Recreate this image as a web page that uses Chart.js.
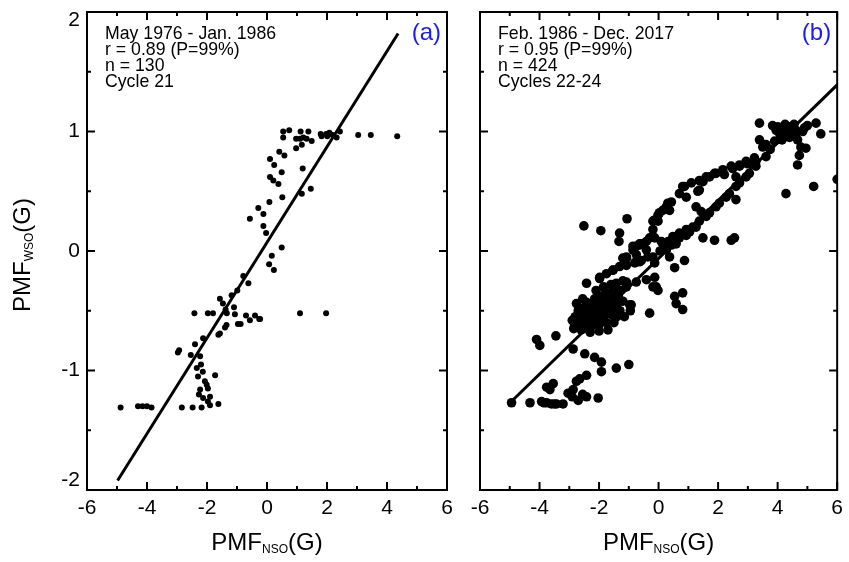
<!DOCTYPE html>
<html>
<head>
<meta charset="utf-8">
<script src="https://cdn.jsdelivr.net/npm/chart.js@4.4.1/dist/chart.umd.min.js"></script>
<style>
  html, body { margin: 0; padding: 0; background: #fff; }
  #wrap { position: relative; width: 849px; height: 562px; }
  canvas { position: absolute; top: 0; }
  #left { left: 0; }
  #right { left: 460px; }
</style>
</head>
<body>
<div id="wrap">
  <canvas id="left" width="460" height="562"></canvas>
  <canvas id="right" width="389" height="562"></canvas>
</div>
<script>
// PMF(NSO) vs PMF(WSO)
const xTickLabels = [-6, -4, -2, 0, 2, 4, 6];
const yTickLabels = [-2, -1, 0, 1, 2];

// panel (a): cycle 21
const cycle21Points = [
  [-4.88,-1.31],[-4.3,-1.3],[-4.15,-1.3],[-4.0,-1.3],[-3.85,-1.31],[-2.84,-1.31],[-2.48,-1.31],
  [-2.18,-1.31],[-1.9,-1.29],[-1.62,-1.28],
  [-2.23,-1.16],[-1.97,-1.15],[-2.27,-1.2],[-1.9,-1.22],[-2.13,-1.23],[-1.97,-1.26],[-2.07,-1.09],
  [-2.01,-1.12],[-2.3,-1.05],[-1.73,-1.04],[-2.34,-0.98],[-2.14,-1.01],[-2.23,-0.88],[-2.2,-0.95],
  [-2.54,-0.87],[-2.93,-0.83],[-2.97,-0.85],[-2.4,-0.78],[-2.13,-0.73],[-1.57,-0.69],[-1.62,-0.7],
  [-1.4,-0.64],[-1.35,-0.62],
  [-2.42,-0.52],[-1.97,-0.52],[-1.8,-0.52],[-1.07,-0.53],[-0.7,-0.54],[-0.4,-0.54],[-0.26,-0.57],
  [-0.97,-0.61],[-0.57,-0.58],[-0.88,-0.61],[-0.23,-0.57],[-1.38,-0.49],[-1.34,-0.52],[1.1,-0.52],
  [1.97,-0.52],[-1.47,-0.44],[-1.57,-0.4],[-1.18,-0.37],[-0.99,-0.33],[-0.79,-0.21],[-0.62,-0.27],
  [-1.1,-0.47],
  [0.16,-0.04],[0.07,-0.11],[0.23,-0.16],[0.49,0.03],[-0.57,0.27],[-0.29,0.36],[-0.12,0.31],
  [-0.12,0.21],[-0.03,0.15],[0.08,0.41],[0.51,0.45],[0.1,0.62],[0.21,0.59],[0.38,0.56],[0.49,0.66],
  [0.1,0.77],[0.24,0.72],[0.41,0.83],[0.58,0.8],[1.19,0.69],[1.16,0.48],[1.46,0.52],
  [0.54,0.95],[0.54,1.0],[0.74,1.01],[0.97,0.86],[1.16,0.89],[0.97,0.94],[1.1,0.94],[1.21,0.95],
  [1.32,0.94],[1.49,0.92],[1.12,1.0],[1.38,1.0],[1.79,0.98],[1.82,0.96],[1.97,0.98],[2.08,0.99],
  [2.19,0.97],[2.32,0.95],[2.43,1.0],[2.01,0.96],[3.04,0.97],[3.46,0.97],[4.34,0.96]
];
const fit21X = [-4.98, 4.37];
const fit21Y = [-1.92, 1.82];

// panel (b): cycles 22-24
const cycles2224Points = [
  [-4.94,-1.27],[-4.32,-1.27],[-3.93,-1.26],[-3.76,-1.27],[-3.6,-1.28],[-3.43,-1.28],[-3.21,-1.28],
  [-3.85,-1.27],[-3.5,-1.28],
  [-4.1,-0.74],[-3.99,-0.79],[-3.45,-0.71],
  [-3.76,-1.14],[-3.54,-1.11],[-3.65,-1.16],
  [-3.04,-1.19],[-2.87,-1.16],[-2.76,-1.09],[-2.65,-1.07],[-2.42,-1.04],[-2.7,-1.25],[-2.42,-1.22],
  [-2.03,-1.23],[-2.9,-1.22],[-2.55,-1.2],
  [-2.87,-0.82],[-2.48,-0.86],[-2.15,-0.89],[-1.92,-0.93],[-1.92,-1.01],[-1.42,-0.98],[-1.0,-0.95],
  [-0.3,-0.52],[-0.92,-0.45],
  [-2.76,-0.44],[-2.42,-0.43],[-2.42,-0.27],
  [-2.8,-0.55],[-2.75,-0.6],[-2.7,-0.5],[-2.65,-0.62],[-2.6,-0.56],[-2.55,-0.48],[-2.5,-0.6],
  [-2.45,-0.52],[-2.4,-0.65],[-2.35,-0.57],[-2.3,-0.45],[-2.25,-0.6],[-2.2,-0.52],[-2.15,-0.4],
  [-2.1,-0.56],[-2.05,-0.47],[-2.0,-0.62],[-1.95,-0.5],[-1.9,-0.38],[-1.85,-0.55],[-1.8,-0.44],
  [-1.75,-0.6],[-1.7,-0.48],[-1.65,-0.35],[-1.6,-0.53],[-1.55,-0.42],[-1.5,-0.6],[-1.45,-0.47],
  [-1.4,-0.55],[-1.35,-0.38],[-1.3,-0.5],[-2.85,-0.65],[-2.6,-0.66],[-2.3,-0.68],[-2.0,-0.67],
  [-1.7,-0.66],[-2.55,-0.4],[-2.1,-0.33],[-1.85,-0.3],[-1.6,-0.28],[-1.2,-0.42],[-1.15,-0.55],
  [-0.95,-0.5],
  [-2.9,-0.58],[-2.82,-0.62],[-2.68,-0.57],[-2.58,-0.63],[-2.48,-0.55],[-2.38,-0.6],[-2.28,-0.55],
  [-2.18,-0.62],[-2.08,-0.5],[-1.98,-0.56],[-1.88,-0.46],[-1.78,-0.52],[-1.68,-0.42],[-1.58,-0.47],
  [-1.48,-0.37],[-1.38,-0.44],[-2.35,-0.5],[-2.22,-0.44],[-2.0,-0.4],[-1.8,-0.36],[-1.62,-0.38],
  [-1.45,-0.3],[-1.28,-0.33],[-1.2,-0.25],
  [-1.98,-0.23],[-1.75,-0.19],[-1.53,-0.16],[-1.31,-0.13],[-1.08,-0.12],[-0.8,-0.1],[-0.58,-0.08],
  [-0.36,-0.05],[-1.42,-0.27],[-1.08,-0.26],[-0.75,-0.26],[-0.41,-0.24],[-0.13,-0.22],[-1.08,-0.06],
  [-0.75,-0.09],[-0.13,-0.1],[-0.08,-0.3],[-1.08,-0.3],[-0.19,-0.3],[-0.02,-0.33],[-0.97,-0.45],
  [-1.75,-0.41],[-1.53,-0.47],
  [-1.98,-0.22],[-1.53,-0.16],[-0.64,-0.09],[-0.19,-0.05],[0.26,0.01],[0.59,0.06],[0.93,0.13],
  [1.26,0.2],[1.6,0.29],[1.93,0.37],[2.27,0.45],[2.6,0.54],[2.94,0.62],[3.27,0.71],
  [-1.2,-0.06],[-0.86,0.01],[-0.64,0.05],[-0.3,0.11],[-0.19,0.18],[-0.02,0.25],[0.26,0.37],
  [0.7,0.48],[0.87,0.54],[1.1,0.57],[1.37,0.59],[1.6,0.62],[1.88,0.65],[2.16,0.68],[2.44,0.71],
  [2.94,0.75],[3.22,0.78],
  [-2.51,0.21],[-1.94,0.17],[-1.06,0.27],[-1.31,0.15],[-1.33,0.08],[-0.75,0.04],[-0.58,0.06],
  [-0.86,0.04],[-0.64,0.06],[-0.41,0.08],[-1.08,-0.05],[-0.75,-0.03],[-0.41,0.01],
  [-0.13,0.26],[-0.02,0.3],[0.14,0.34],[0.31,0.4],[-0.19,0.12],[0.09,0.08],[0.2,0.02],[0.03,0.32],
  [-0.19,0.25],[0.43,0.41],[0.37,0.34],[-0.13,0.11],[0.14,0.06],[0.43,0.05],[0.26,0.01],[0.37,-0.05],
  [0.26,0.06],[0.48,0.12],[0.7,0.15],[0.93,0.18],[1.15,0.2],[0.2,0.04],[0.32,0.08],[0.05,0.0],
  [0.81,0.54],[0.93,0.45],[1.32,0.5],[1.26,0.37],[1.43,0.33],
  [0.7,0.11],[1.04,0.16],[1.37,0.25],[1.71,0.32],[2.04,0.4],[2.38,0.48],[2.72,0.57],[3.05,0.65],
  [1.49,0.58],[1.71,0.62],[1.93,0.65],[2.21,0.64],[2.49,0.69],[2.72,0.72],[2.99,0.73],[3.22,0.75],
  [1.37,0.51],[2.6,0.62],[2.72,0.71],[2.6,0.43],
  [1.49,0.11],[1.88,0.09],[2.44,0.09],[2.55,0.11],
  [0.87,-0.08],[0.54,-0.14],[0.54,-0.38],[0.59,-0.44],[0.81,-0.35],[0.81,-0.49],
  [3.39,1.07],[3.83,1.05],[3.39,0.93],[3.61,0.89],[3.95,1.01],[4.17,1.03],[4.39,1.04],[4.62,1.01],
  [4.84,1.0],[5.0,1.05],[5.29,1.07],[5.45,0.98],[4.5,0.97],[4.67,0.93],[4.78,0.87],[4.95,0.86],
  [4.73,0.8],[4.67,0.72],[4.28,0.48],[5.21,0.54],[6.0,0.6],[3.61,0.79],[3.27,0.75],[4.1,0.95],
  [4.3,0.98],[4.45,1.02],[3.9,0.92],[4.05,0.99],[4.25,1.06],[4.55,1.06],[3.75,0.85],
  [4.0,1.04],[4.2,0.99],[4.35,1.0],[4.6,0.97],[4.15,0.93],[3.5,0.87],[4.4,0.95],[4.9,1.03]
];
const fit2224X = [-4.99, 6.0];
const fit2224Y = [-1.27, 1.39];

const FONT = '"Liberation Sans", Arial, Helvetica, sans-serif';

// frame, inward ticks, y labels, axis titles and in-plot notes
const panelDecor = {
  id: 'panelDecor',
  afterDraw(chart, args, opts) {
    const { ctx, chartArea: a, scales: { x, y } } = chart;
    ctx.save();
    ctx.strokeStyle = '#000';
    ctx.lineWidth = 2;
    ctx.strokeRect(a.left, a.top, a.right - a.left, a.bottom - a.top);

    ctx.beginPath();
    for (let v = x.min; v <= x.max; v += 1) {
      const px = x.getPixelForValue(v);
      const len = xTickLabels.includes(v) ? 8 : 4;
      ctx.moveTo(px, a.bottom); ctx.lineTo(px, a.bottom - len);
      ctx.moveTo(px, a.top); ctx.lineTo(px, a.top + len);
    }
    for (let v = y.min; v <= y.max; v += 0.5) {
      const py = y.getPixelForValue(v);
      const len = yTickLabels.includes(v) ? 8 : 4;
      ctx.moveTo(a.left, py); ctx.lineTo(a.left + len, py);
      ctx.moveTo(a.right, py); ctx.lineTo(a.right - len, py);
    }
    ctx.stroke();

    ctx.fillStyle = '#000';
    if (opts.yLabels) {
      ctx.font = '21px ' + FONT;
      ctx.textAlign = 'right';
      ctx.textBaseline = 'middle';
      yTickLabels.forEach(v => {
        let py = y.getPixelForValue(v);
        if (v === y.max) py += 8;
        if (v === y.min) py -= 10;
        ctx.fillText(String(v), a.left - 7, py);
      });
    }

    // x title with subscript
    const cx = (a.left + a.right) / 2;
    drawSubTitle(ctx, 'PMF', 'NSO', '(G)', cx, 550);

    if (opts.yTitle) {
      ctx.save();
      ctx.translate(30, (a.top + a.bottom) / 2 + 4);
      ctx.rotate(-Math.PI / 2);
      drawSubTitle(ctx, 'PMF', 'WSO', '(G)', 0, 0);
      ctx.restore();
    }

    // notes
    ctx.font = '17.7px ' + FONT;
    ctx.textAlign = 'left';
    ctx.textBaseline = 'alphabetic';
    opts.notes.forEach((t, i) => ctx.fillText(t, a.left + 18, 39 + i * 16));

    ctx.font = '24px ' + FONT;
    ctx.fillStyle = '#1a1aff';
    ctx.textAlign = 'right';
    ctx.fillText(opts.tag, a.right - 6, 40);
    ctx.restore();
  }
};

function drawSubTitle(ctx, main, sub, tail, cx, base) {
  ctx.textAlign = 'left';
  ctx.textBaseline = 'alphabetic';
  ctx.font = '24px ' + FONT;
  const w1 = ctx.measureText(main).width;
  const w3 = ctx.measureText(tail).width;
  ctx.font = '12px ' + FONT;
  const w2 = ctx.measureText(sub).width;
  const x0 = cx - (w1 + w2 + w3) / 2;
  ctx.font = '24px ' + FONT;
  ctx.fillText(main, x0, base);
  ctx.font = '12px ' + FONT;
  ctx.fillText(sub, x0 + w1, base + 3);
  ctx.font = '24px ' + FONT;
  ctx.fillText(tail, x0 + w1 + w2, base);
}

function makePanel(canvasId, points, fitX, fitY, radius, cfg) {
  return new Chart(document.getElementById(canvasId), {
    type: 'scatter',
    data: {
      datasets: [
        {
          data: points.map(p => ({ x: p[0], y: p[1] })),
          backgroundColor: '#000',
          borderWidth: 0,
          pointRadius: radius,
          pointHoverRadius: radius
        },
        {
          type: 'line',
          data: fitX.map((v, i) => ({ x: v, y: fitY[i] })),
          borderColor: '#000',
          borderWidth: 3,
          pointRadius: 0,
          fill: false
        }
      ]
    },
    options: {
      responsive: false,
      animation: false,
      layout: { padding: { top: 12, right: cfg.padRight, left: 0, bottom: 0 } },
      plugins: {
        legend: { display: false },
        tooltip: { enabled: false },
        panelDecor: cfg.decor
      },
      scales: {
        x: {
          type: 'linear',
          min: -6, max: 6,
          grid: { display: false, drawTicks: false },
          border: { display: false },
          afterFit: s => { s.height = 72; },
          ticks: {
            stepSize: 1,
            autoSkip: false,
            maxRotation: 0,
            padding: 6,
            color: '#000',
            font: { family: FONT, size: 21 },
            callback: v => xTickLabels.includes(v) ? String(v) : ''
          }
        },
        y: {
          type: 'linear',
          min: -2, max: 2,
          grid: { display: false, drawTicks: false },
          border: { display: false },
          afterFit: s => { s.width = cfg.yWidth; },
          ticks: { display: false, stepSize: 0.5 }
        }
      }
    },
    plugins: [panelDecor]
  });
}

makePanel('left', cycle21Points, fit21X, fit21Y, 3, {
  padRight: 13, yWidth: 87,
  decor: {
    yLabels: true, yTitle: true, tag: '(a)',
    notes: ['May 1976 - Jan. 1986', 'r = 0.89 (P=99%)', 'n = 130', 'Cycle 21']
  }
});

makePanel('right', cycles2224Points, fit2224X, fit2224Y, 4.8, {
  padRight: 11, yWidth: 20,
  decor: {
    yLabels: false, yTitle: false, tag: '(b)',
    notes: ['Feb. 1986 - Dec. 2017', 'r = 0.95 (P=99%)', 'n = 424', 'Cycles 22-24']
  }
});
</script>
</body>
</html>
